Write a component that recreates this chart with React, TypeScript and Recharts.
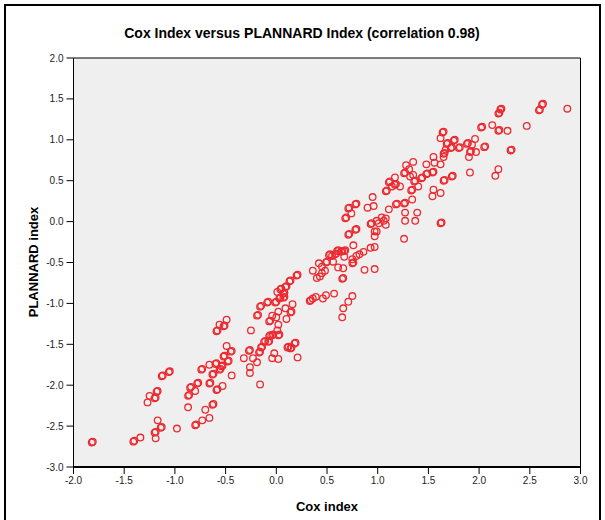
import React from "react";
import { ScatterChart, Scatter, XAxis, YAxis, ReferenceArea } from "recharts";

// Cox index (x) and PLANNARD index (y)
const coxIndex = [
  -1.82, -1.81, -1.41, -1.40, -1.34, -1.20, -1.19, -1.19, -1.14, -1.13, -1.17, -0.98,
  -1.27, -1.25, -1.20, -1.19, -1.18, -1.17, -1.13, -1.12, -1.06, -1.05,
  -0.87, -0.87, -0.86, -0.85, -0.84, -0.80, -0.78, -0.77, -0.74, -0.73, -0.80, -0.79,
  -0.73, -0.70, -0.66, -0.63, -0.62, -0.59, -0.58, -0.53, -0.66, -0.65, -0.63, -0.62, -0.66,
  -0.60, -0.59, -0.56, -0.55, -0.54, -0.53, -0.52, -0.51, -0.48, -0.47, -0.49, -0.45, -0.44, -0.44,
  -0.59, -0.58, -0.56, -0.52, -0.51, -0.49, -0.25, -0.32, -0.27, -0.26, -0.23, -0.19, -0.26, -0.26, -0.16,
  -0.17, -0.16, -0.15, -0.14, -0.12, -0.11, -0.08, -0.07, -0.07, -0.06, -0.04, -0.03, -0.04, -0.02, 0.02, 0.02, 0.03, 0.01,
  0.11, 0.12, 0.14, 0.15, 0.18, 0.19, 0.21, -0.19, -0.18, -0.16, -0.15, -0.09, -0.08, -0.07, -0.06,
  -0.04, 0.00, 0.02, 0.02, 0.09, 0.14, 0.15, 0.10,
  -0.01, 0.00, 0.03, 0.04, 0.07, 0.08, 0.07, 0.08, 0.01, 0.04, 0.05, 0.09, 0.10, 0.16, 0.13, 0.14, 0.20, 0.21,
  0.33, 0.34, 0.36, 0.39, 0.46, 0.49, 0.57, 0.65, 0.66, 0.75, 0.71, 0.66, 0.65, 0.87, 0.97,
  0.36, 0.40, 0.43, 0.45, 0.48, 0.45, 0.42, 0.49, 0.50, 0.56, 0.52, 0.53, 0.55,
  0.58, 0.59, 0.60, 0.61, 0.64, 0.65, 0.67, 0.68, 0.67, 0.61, 0.66,
  0.75, 0.76, 0.75, 0.79, 0.82, 0.86, 0.76, 0.71, 0.72, 0.78, 0.79, 0.68, 0.69, 0.93, 0.97,
  0.78, 0.79, 0.71, 0.72, 0.74, 0.90, 0.96, 0.95, 1.08, 1.09, 1.11, 1.12, 1.14, 1.17, 1.18, 1.22, 1.17,
  1.26, 1.27, 1.28, 1.31, 1.32, 1.35, 1.35, 1.36, 1.37, 1.40, 1.33, 1.34, 1.34,
  1.43, 1.44, 1.48, 1.49, 1.54, 1.55, 1.48, 1.56, 1.55, 1.62, 1.55, 1.62, 1.54, 1.65, 1.66, 1.73, 1.74,
  1.11, 1.18, 1.19, 1.26, 1.27, 1.27, 1.27, 1.39, 1.37, 1.62, 1.63,
  0.99, 1.04, 1.08, 1.06, 1.08, 1.01, 0.93, 0.94, 0.97, 0.99, 0.97, 1.26,
  1.64, 1.65, 1.62, 1.68, 1.69, 1.75, 1.76, 1.72, 1.73, 1.80, 1.81, 1.67, 1.65, 1.66, 1.65,
  1.88, 1.89, 1.96, 1.93, 1.91, 1.92, 1.97, 1.90, 1.91,
  2.19, 2.16, 2.05, 2.06, 2.02, 2.03, 2.13, 2.19, 2.20, 2.28, 2.31, 2.32, 2.47,
  2.21, 2.22, 2.19, 2.20, 2.62, 2.63, 2.59, 2.60, 2.87,
];

const plannardIndex = [
  -2.70, -2.69, -2.69, -2.68, -2.64, -2.58, -2.57, -2.65, -2.52, -2.51, -2.43, -2.53,
  -2.21, -2.13, -2.16, -2.15, -2.08, -2.07, -1.89, -1.88, -1.84, -1.83,
  -2.27, -2.13, -2.12, -2.03, -2.02, -2.07, -1.98, -1.97, -1.81, -1.80, -2.49, -2.48,
  -2.43, -2.30, -2.40, -2.24, -2.23, -2.06, -2.05, -2.01, -1.98, -1.97, -1.87, -1.86, -1.75,
  -1.74, -1.73, -1.81, -1.80, -1.77, -1.76, -1.65, -1.64, -1.71, -1.70, -1.52, -1.59, -1.58, -1.88,
  -1.34, -1.33, -1.26, -1.28, -1.27, -1.20, -1.33, -1.67, -1.58, -1.57, -1.67, -1.72, -1.78, -1.85, -1.99,
  -1.60, -1.59, -1.54, -1.53, -1.47, -1.46, -1.47, -1.46, -1.40, -1.39, -1.39, -1.38, -1.67, -1.61, -1.68, -1.39, -1.38, -1.33,
  -1.54, -1.53, -1.55, -1.54, -1.49, -1.48, -1.66, -1.15, -1.14, -1.04, -1.03, -0.99, -0.98, -1.22, -1.21,
  -1.15, -1.17, -1.10, -1.26, -1.06, -1.11, -1.10, -1.19,
  -0.99, -0.98, -0.94, -0.93, -0.93, -0.92, -0.88, -0.87, -0.86, -0.83, -0.82, -0.80, -0.79, -1.01, -0.73, -0.72, -0.66, -0.65,
  -0.97, -0.96, -0.94, -0.92, -0.94, -0.90, -0.88, -0.70, -0.69, -0.91, -0.98, -1.06, -1.17, -0.59, -0.58,
  -0.60, -0.69, -0.67, -0.63, -0.60, -0.55, -0.51, -0.50, -0.49, -0.49, -0.41, -0.40, -0.42,
  -0.40, -0.39, -0.36, -0.35, -0.37, -0.36, -0.36, -0.35, -0.43, -0.56, -0.57,
  -0.51, -0.50, -0.46, -0.42, -0.40, -0.37, -0.29, -0.16, -0.15, -0.10, -0.09, 0.04, 0.05, -0.32, -0.31,
  0.21, 0.22, 0.16, 0.17, 0.10, 0.17, 0.19, 0.30, 0.37, 0.38, 0.48, 0.49, 0.43, 0.45, 0.46, 0.43, 0.54,
  0.59, 0.60, 0.69, 0.64, 0.55, 0.73, 0.57, 0.49, 0.50, 0.43, 0.38, 0.39, 0.27,
  0.53, 0.54, 0.58, 0.59, 0.60, 0.61, 0.70, 0.72, 0.79, 0.70, 0.39, 0.35, 0.31, 0.50, 0.51, 0.55, 0.56,
  0.15, 0.21, 0.22, 0.22, 0.23, 0.11, 0.01, 0.11, 0.01, -0.02, -0.01,
  0.01, 0.05, 0.04, 0.01, -0.04, -0.02, -0.03, -0.02, -0.12, -0.12, -0.18, -0.21,
  1.09, 1.10, 1.02, 0.95, 0.96, 0.99, 1.00, 0.90, 0.91, 0.90, 0.91, 0.88, 0.83, 0.84, 0.79,
  0.95, 0.96, 1.01, 0.94, 0.85, 0.86, 0.85, 0.79, 0.60,
  0.64, 0.56, 0.91, 0.92, 1.15, 1.16, 1.18, 1.11, 1.12, 1.11, 0.87, 0.88, 1.17,
  1.37, 1.38, 1.32, 1.33, 1.43, 1.44, 1.36, 1.37, 1.38,
];

const xTicks = [-2, -1.5, -1, -0.5, 0, 0.5, 1, 1.5, 2, 2.5, 3];
const yTicks = [-3, -2.5, -2, -1.5, -1, -0.5, 0, 0.5, 1, 1.5, 2];

const points = coxIndex.map((cox, i) => ({ cox, plannard: plannardIndex[i] }));

const FONT = "'Liberation Sans', Arial, Helvetica, sans-serif";
const tickStyle = { fontSize: 10, fill: "#222", fontFamily: FONT };

const Ring = (props: any) => (
  <circle cx={props.cx} cy={props.cy} r={3.3} fill="none" stroke="#ec2a30" strokeWidth={1.3} />
);

export default function App() {
  return (
    <div style={{ position: "absolute", left: 0, top: 0, width: 605, height: 520, background: "#fff", overflow: "hidden" }}>
      {/* outer frame */}
      <div style={{ position: "absolute", left: 4, top: 4, width: 597, height: 530, border: "2px solid #000", boxSizing: "border-box" }} />
      <ScatterChart width={605} height={520} margin={{ top: 58, right: 24.5, bottom: 23, left: 23.5 }}>
        <ReferenceArea x1={-2} x2={3} y1={-3} y2={2} fill="#efefef" fillOpacity={1} stroke="#000" strokeWidth={1} />
        <XAxis
          type="number"
          dataKey="cox"
          domain={[-2, 3]}
          ticks={xTicks}
          allowDataOverflow
          tickFormatter={(v: number) => v.toFixed(1)}
          tick={tickStyle}
          tickSize={7}
          tickMargin={3}
          height={30}
          axisLine={{ stroke: "#000", strokeWidth: 2 }}
          tickLine={{ stroke: "#000" }}
        />
        <YAxis
          type="number"
          dataKey="plannard"
          domain={[-3, 2]}
          ticks={yTicks}
          allowDataOverflow
          tickFormatter={(v: number) => v.toFixed(1)}
          tick={tickStyle}
          tickSize={7}
          tickMargin={3}
          width={50}
          axisLine={{ stroke: "#000" }}
          tickLine={{ stroke: "#000" }}
        />
        <Scatter data={points} shape={Ring} isAnimationActive={false} />
      </ScatterChart>
      <svg width={605} height={520} style={{ position: "absolute", left: 0, top: 0, pointerEvents: "none" }}>
        <text x={302} y={38} textAnchor="middle" fontFamily={FONT} fontWeight="bold" fontSize={14} fill="#000">
          Cox Index versus PLANNARD Index (correlation 0.98)
        </text>
        <text x={327} y={511} textAnchor="middle" fontFamily={FONT} fontWeight="bold" fontSize={13} fill="#000">
          Cox index
        </text>
        <text x={38} y={262} textAnchor="middle" fontFamily={FONT} fontWeight="bold" fontSize={13} fill="#000" transform="rotate(-90 38 262)">
          PLANNARD index
        </text>
      </svg>
    </div>
  );
}
